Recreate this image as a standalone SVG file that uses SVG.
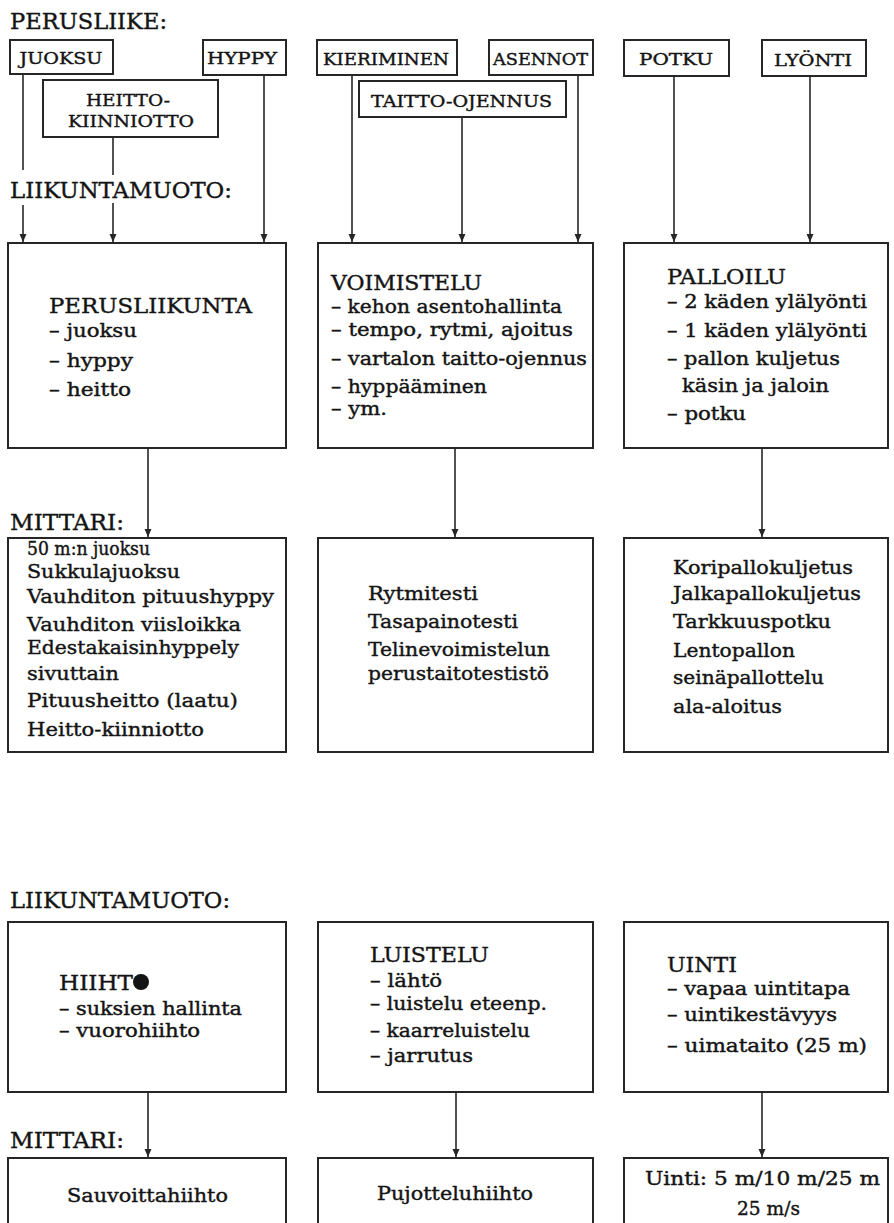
<svg xmlns="http://www.w3.org/2000/svg" width="894" height="1223" viewBox="0 0 894 1223">
  <style>
    text { font-family: "DejaVu Serif", "Liberation Serif", serif; fill: #141414; stroke: #141414; stroke-width: 0.4; }
    .sec { font-size: 23px; }
    .lbl { font-size: 16px; text-anchor: middle; }
    .hd { font-size: 21px; }
    .b { font-size: 18px; }
    .m { font-size: 19px; }
    .box { fill: #ffffff; stroke: #262626; stroke-width: 2; }
    .con { fill: none; stroke: #262626; stroke-width: 1.6; }
  </style>
  <defs>
    <marker id="arrow" markerUnits="userSpaceOnUse" markerWidth="8" markerHeight="8" refX="8" refY="3.5" orient="auto">
      <path d="M0,0 L8,3.5 L0,7 z" fill="#262626"/>
    </marker>
  </defs>
  <rect width="894" height="1223" fill="#ffffff"/>

  <!-- section headings -->
  <text class="sec" x="10" y="29" textLength="157" lengthAdjust="spacingAndGlyphs">PERUSLIIKE:</text>
  <text class="sec" x="10" y="198" textLength="222" lengthAdjust="spacingAndGlyphs">LIIKUNTAMUOTO:</text>
  <text class="sec" x="10" y="530" textLength="114" lengthAdjust="spacingAndGlyphs">MITTARI:</text>
  <text class="sec" x="10" y="908" textLength="220" lengthAdjust="spacingAndGlyphs">LIIKUNTAMUOTO:</text>
  <text class="sec" x="10" y="1148" textLength="114" lengthAdjust="spacingAndGlyphs">MITTARI:</text>

  <!-- connectors -->
  <g id="connectors">
    <path class="con" d="M23,74 V170"/>
    <path class="con" d="M23,205 V242" marker-end="url(#arrow)"/>
    <path class="con" d="M113,137 V175"/>
    <path class="con" d="M113,203 V242" marker-end="url(#arrow)"/>
    <path class="con" d="M264,75 V242" marker-end="url(#arrow)"/>
    <path class="con" d="M352,75 V242" marker-end="url(#arrow)"/>
    <path class="con" d="M462,117 V242" marker-end="url(#arrow)"/>
    <path class="con" d="M578,75 V242" marker-end="url(#arrow)"/>
    <path class="con" d="M674,76 V242" marker-end="url(#arrow)"/>
    <path class="con" d="M810,76 V242" marker-end="url(#arrow)"/>
    <path class="con" d="M148,448 V537" marker-end="url(#arrow)"/>
    <path class="con" d="M455,448 V537" marker-end="url(#arrow)"/>
    <path class="con" d="M762,448 V537" marker-end="url(#arrow)"/>
    <path class="con" d="M148,1092 V1157" marker-end="url(#arrow)"/>
    <path class="con" d="M456,1092 V1157" marker-end="url(#arrow)"/>
    <path class="con" d="M762,1092 V1157" marker-end="url(#arrow)"/>
  </g>

  <!-- basic movements -->
  <g id="juoksu">
    <rect class="box" x="10" y="40" width="103" height="34"/>
    <text class="lbl" x="61" y="64" textLength="83" lengthAdjust="spacingAndGlyphs">JUOKSU</text>
  </g>
  <g id="hyppy">
    <rect class="box" x="203" y="40" width="83" height="35"/>
    <text class="lbl" x="242" y="64" textLength="70" lengthAdjust="spacingAndGlyphs">HYPPY</text>
  </g>
  <g id="heitto-kiinniotto">
    <rect class="box" x="43" y="80" width="175" height="57"/>
    <text class="lbl" x="128" y="106" textLength="84" lengthAdjust="spacingAndGlyphs">HEITTO-</text>
    <text class="lbl" x="131" y="127" textLength="126" lengthAdjust="spacingAndGlyphs">KIINNIOTTO</text>
  </g>
  <g id="kieriminen">
    <rect class="box" x="317" y="40" width="140" height="35"/>
    <text class="lbl" x="386" y="65" textLength="126" lengthAdjust="spacingAndGlyphs">KIERIMINEN</text>
  </g>
  <g id="asennot">
    <rect class="box" x="489" y="40" width="104" height="35"/>
    <text class="lbl" x="540.5" y="65" textLength="95" lengthAdjust="spacingAndGlyphs">ASENNOT</text>
  </g>
  <g id="taitto-ojennus">
    <rect class="box" x="359" y="81" width="207" height="36"/>
    <text class="lbl" x="461.5" y="107" textLength="181" lengthAdjust="spacingAndGlyphs">TAITTO-OJENNUS</text>
  </g>
  <g id="potku">
    <rect class="box" x="624" y="40" width="105" height="36"/>
    <text class="lbl" x="676" y="65" textLength="74" lengthAdjust="spacingAndGlyphs">POTKU</text>
  </g>
  <g id="lyonti">
    <rect class="box" x="762" y="40" width="104" height="36"/>
    <text class="lbl" x="813" y="66" textLength="78" lengthAdjust="spacingAndGlyphs">LYÖNTI</text>
  </g>

  <!-- forms of physical activity, upper row -->
  <g id="perusliikunta">
    <rect class="box" x="8" y="243" width="278" height="205"/>
    <text class="hd" x="49" y="313" textLength="203" lengthAdjust="spacingAndGlyphs">PERUSLIIKUNTA</text>
    <text class="b" x="49" y="337" textLength="88" lengthAdjust="spacingAndGlyphs">– juoksu</text>
    <text class="b" x="49" y="367" textLength="84" lengthAdjust="spacingAndGlyphs">– hyppy</text>
    <text class="b" x="49" y="396" textLength="82" lengthAdjust="spacingAndGlyphs">– heitto</text>
  </g>
  <g id="voimistelu">
    <rect class="box" x="318" y="243" width="275" height="205"/>
    <text class="hd" x="331" y="290" textLength="151" lengthAdjust="spacingAndGlyphs">VOIMISTELU</text>
    <text class="b" x="331" y="313" textLength="231" lengthAdjust="spacingAndGlyphs">– kehon asentohallinta</text>
    <text class="b" x="331" y="336" textLength="242" lengthAdjust="spacingAndGlyphs">– tempo, rytmi, ajoitus</text>
    <text class="b" x="331" y="365" textLength="256" lengthAdjust="spacingAndGlyphs">– vartalon taitto-ojennus</text>
    <text class="b" x="331" y="393" textLength="156" lengthAdjust="spacingAndGlyphs">– hyppääminen</text>
    <text class="b" x="331" y="415" textLength="56" lengthAdjust="spacingAndGlyphs">– ym.</text>
  </g>
  <g id="palloilu">
    <rect class="box" x="624" y="243" width="264" height="205"/>
    <text class="hd" x="667" y="284" textLength="119" lengthAdjust="spacingAndGlyphs">PALLOILU</text>
    <text class="b" x="667" y="308" textLength="200" lengthAdjust="spacingAndGlyphs">– 2 käden ylälyönti</text>
    <text class="b" x="667" y="337" textLength="200" lengthAdjust="spacingAndGlyphs">– 1 käden ylälyönti</text>
    <text class="b" x="667" y="365" textLength="173" lengthAdjust="spacingAndGlyphs">– pallon kuljetus</text>
    <text class="b" x="682" y="392" textLength="147" lengthAdjust="spacingAndGlyphs">käsin ja jaloin</text>
    <text class="b" x="667" y="420" textLength="79" lengthAdjust="spacingAndGlyphs">– potku</text>
  </g>

  <!-- measures, upper row -->
  <g id="mittari-perusliikunta">
    <rect class="box" x="8" y="538" width="278" height="214"/>
    <text class="m" x="27" y="555" style="font-size:18px" textLength="123" lengthAdjust="spacingAndGlyphs">50 m:n juoksu</text>
    <text class="m" x="27" y="578" textLength="153" lengthAdjust="spacingAndGlyphs">Sukkulajuoksu</text>
    <text class="m" x="27" y="603" textLength="247" lengthAdjust="spacingAndGlyphs">Vauhditon pituushyppy</text>
    <text class="m" x="27" y="631" textLength="214" lengthAdjust="spacingAndGlyphs">Vauhditon viisloikka</text>
    <text class="m" x="27" y="654" textLength="212" lengthAdjust="spacingAndGlyphs">Edestakaisinhyppely</text>
    <text class="m" x="27" y="680" textLength="92" lengthAdjust="spacingAndGlyphs">sivuttain</text>
    <text class="m" x="27" y="707" textLength="211" lengthAdjust="spacingAndGlyphs">Pituusheitto (laatu)</text>
    <text class="m" x="27" y="736" textLength="177" lengthAdjust="spacingAndGlyphs">Heitto-kiinniotto</text>
  </g>
  <g id="mittari-voimistelu">
    <rect class="box" x="318" y="538" width="275" height="214"/>
    <text class="m" x="368" y="600" textLength="110" lengthAdjust="spacingAndGlyphs">Rytmitesti</text>
    <text class="m" x="368" y="628" textLength="150" lengthAdjust="spacingAndGlyphs">Tasapainotesti</text>
    <text class="m" x="368" y="656" textLength="182" lengthAdjust="spacingAndGlyphs">Telinevoimistelun</text>
    <text class="m" x="368" y="680" textLength="181" lengthAdjust="spacingAndGlyphs">perustaitotestistö</text>
  </g>
  <g id="mittari-palloilu">
    <rect class="box" x="624" y="538" width="264" height="214"/>
    <text class="m" x="673" y="574" textLength="180" lengthAdjust="spacingAndGlyphs">Koripallokuljetus</text>
    <text class="m" x="673" y="600" textLength="188" lengthAdjust="spacingAndGlyphs">Jalkapallokuljetus</text>
    <text class="m" x="673" y="628" textLength="158" lengthAdjust="spacingAndGlyphs">Tarkkuuspotku</text>
    <text class="m" x="673" y="657" textLength="122" lengthAdjust="spacingAndGlyphs">Lentopallon</text>
    <text class="m" x="673" y="684" textLength="151" lengthAdjust="spacingAndGlyphs">seinäpallottelu</text>
    <text class="m" x="673" y="713" textLength="109" lengthAdjust="spacingAndGlyphs">ala-aloitus</text>
  </g>

  <!-- forms of physical activity, lower row -->
  <g id="hiihto">
    <rect class="box" x="8" y="922" width="278" height="170"/>
    <text class="hd" x="59" y="990" textLength="74" lengthAdjust="spacingAndGlyphs">HIIHT</text>
    <circle cx="141" cy="982" r="8" fill="#141414"/>
    <text class="b" x="59" y="1015" textLength="183" lengthAdjust="spacingAndGlyphs">– suksien hallinta</text>
    <text class="b" x="59" y="1037" textLength="141" lengthAdjust="spacingAndGlyphs">– vuorohiihto</text>
  </g>
  <g id="luistelu">
    <rect class="box" x="318" y="922" width="275" height="170"/>
    <text class="hd" x="370" y="962" textLength="119" lengthAdjust="spacingAndGlyphs">LUISTELU</text>
    <text class="b" x="370" y="987" textLength="72" lengthAdjust="spacingAndGlyphs">– lähtö</text>
    <text class="b" x="370" y="1010" textLength="177" lengthAdjust="spacingAndGlyphs">– luistelu eteenp.</text>
    <text class="b" x="370" y="1037" textLength="160" lengthAdjust="spacingAndGlyphs">– kaarreluistelu</text>
    <text class="b" x="370" y="1062" textLength="103" lengthAdjust="spacingAndGlyphs">– jarrutus</text>
  </g>
  <g id="uinti">
    <rect class="box" x="624" y="922" width="264" height="170"/>
    <text class="hd" x="667" y="972" textLength="70" lengthAdjust="spacingAndGlyphs">UINTI</text>
    <text class="b" x="667" y="995" textLength="183" lengthAdjust="spacingAndGlyphs">– vapaa uintitapa</text>
    <text class="b" x="667" y="1021" textLength="170" lengthAdjust="spacingAndGlyphs">– uintikestävyys</text>
    <text class="b" x="667" y="1052" textLength="200" lengthAdjust="spacingAndGlyphs">– uimataito (25 m)</text>
  </g>

  <!-- measures, lower row (boxes run past the bottom edge) -->
  <g id="mittari-hiihto">
    <rect class="box" x="8" y="1158" width="278" height="90"/>
    <text class="m" x="67" y="1202" textLength="161" lengthAdjust="spacingAndGlyphs">Sauvoittahiihto</text>
  </g>
  <g id="mittari-luistelu">
    <rect class="box" x="318" y="1158" width="275" height="90"/>
    <text class="m" x="377" y="1200" textLength="156" lengthAdjust="spacingAndGlyphs">Pujotteluhiihto</text>
  </g>
  <g id="mittari-uinti">
    <rect class="box" x="624" y="1158" width="264" height="90"/>
    <text class="m" x="645" y="1185" textLength="235" lengthAdjust="spacingAndGlyphs">Uinti: 5 m/10 m/25 m</text>
    <text class="m" x="737" y="1215" textLength="63" lengthAdjust="spacingAndGlyphs">25 m/s</text>
  </g>
</svg>
